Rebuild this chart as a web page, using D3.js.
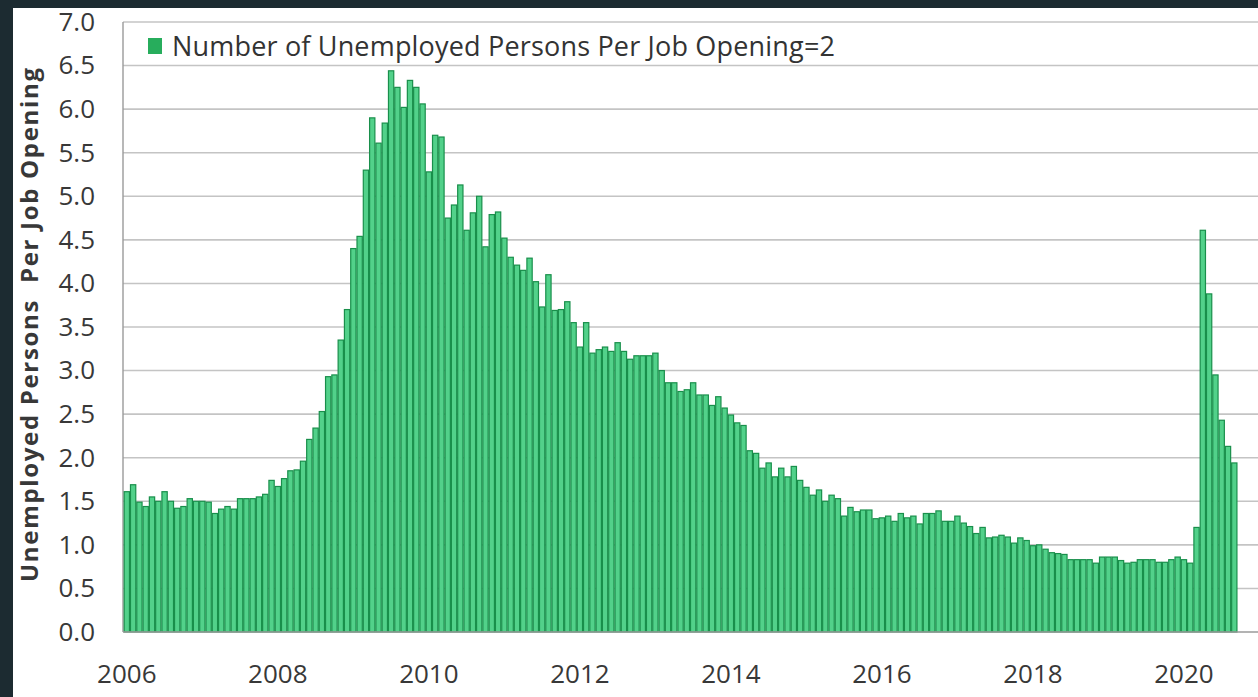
<!DOCTYPE html>
<html>
<head>
<meta charset="utf-8">
<script src="https://cdn.jsdelivr.net/npm/d3@7"></script>
<style>
  html, body { margin: 0; padding: 0; background: #1c2b31; }
  svg { display: block; }
  text { font-family: "Open Sans", "DejaVu Sans", sans-serif; }
</style>
</head>
<body>
<svg id="chart" width="1258" height="697"></svg>
<script>
// ---- Data ----
const startYear = 2006;
const endYear = 2020;              // axis runs through Dec 2020
const yearLabels = ["2006", "2008", "2010", "2012", "2014", "2016", "2018", "2020"];
const yTicks = [0, 0.5, 1, 1.5, 2, 2.5, 3, 3.5, 4, 4.5, 5, 5.5, 6, 6.5, 7];
const seriesName = "Number of Unemployed Persons Per Job Opening=2";
const yTitle = "Unemployed Persons  Per Job Opening";

// Monthly ratio, Jan 2006 .. Sep 2020
const ratio = [
  /*2006*/ 1.61, 1.69, 1.49, 1.44, 1.55, 1.50, 1.61, 1.50, 1.42, 1.44, 1.53, 1.50,
  /*2007*/ 1.50, 1.49, 1.36, 1.41, 1.44, 1.41, 1.53, 1.53, 1.53, 1.55, 1.58, 1.74,
  /*2008*/ 1.67, 1.76, 1.85, 1.86, 1.96, 2.21, 2.34, 2.53, 2.93, 2.95, 3.35, 3.70,
  /*2009*/ 4.40, 4.54, 5.30, 5.90, 5.61, 5.84, 6.44, 6.25, 6.02, 6.33, 6.25, 6.06,
  /*2010*/ 5.28, 5.70, 5.68, 4.75, 4.90, 5.13, 4.61, 4.81, 5.00, 4.42, 4.79, 4.82,
  /*2011*/ 4.52, 4.30, 4.21, 4.15, 4.29, 4.02, 3.73, 4.10, 3.69, 3.70, 3.79, 3.55,
  /*2012*/ 3.27, 3.55, 3.20, 3.24, 3.27, 3.22, 3.32, 3.22, 3.13, 3.17, 3.17, 3.17,
  /*2013*/ 3.20, 3.00, 2.86, 2.86, 2.76, 2.78, 2.86, 2.72, 2.72, 2.60, 2.70, 2.57,
  /*2014*/ 2.49, 2.40, 2.37, 2.08, 2.05, 1.88, 1.94, 1.78, 1.88, 1.78, 1.90, 1.74,
  /*2015*/ 1.66, 1.57, 1.63, 1.50, 1.57, 1.53, 1.33, 1.43, 1.38, 1.40, 1.40, 1.30,
  /*2016*/ 1.31, 1.33, 1.27, 1.36, 1.31, 1.33, 1.24, 1.36, 1.36, 1.39, 1.27, 1.27,
  /*2017*/ 1.33, 1.25, 1.21, 1.13, 1.20, 1.08, 1.09, 1.11, 1.09, 1.02, 1.08, 1.05,
  /*2018*/ 0.99, 1.00, 0.95, 0.91, 0.90, 0.89, 0.83, 0.83, 0.83, 0.83, 0.79, 0.86,
  /*2019*/ 0.86, 0.86, 0.82, 0.79, 0.80, 0.83, 0.83, 0.83, 0.80, 0.80, 0.83, 0.86,
  /*2020*/ 0.83, 0.79, 1.20, 4.61, 3.88, 2.95, 2.43, 2.13, 1.94
];

// ---- Layout ----
const W = 1258, H = 697;
const plot = { left: 123, right: 1258, top: 22, bottom: 632 };
const bandLeft = 124, bandRight = 1256;

const svg = d3.select("#chart");

// dark photographed border + white chart area
svg.append("rect").attr("x", 0).attr("y", 0).attr("width", W).attr("height", H).attr("fill", "#1c2b31");
svg.append("rect").attr("x", 13).attr("y", 8).attr("width", W - 13).attr("height", H - 8).attr("fill", "#ffffff");

// months categories
const months = [];
for (let yr = startYear; yr <= endYear; yr++) for (let m = 0; m < 12; m++) months.push(yr + "-" + String(m + 1).padStart(2, "0"));
const data = ratio.map((v, i) => ({ month: months[i], value: v }));

const x = d3.scaleBand().domain(months).range([bandLeft, bandRight]).paddingInner(0.16).paddingOuter(0.03);
const y = d3.scaleLinear().domain([0, 7]).range([plot.bottom, plot.top]);

// gridlines
svg.append("g").selectAll("line").data(yTicks.filter(d => d > 0)).join("line")
  .attr("x1", plot.left).attr("x2", plot.right)
  .attr("y1", d => y(d)).attr("y2", d => y(d))
  .attr("stroke", "#c4c4c4").attr("stroke-width", 1.6);

// left axis line
svg.append("line").attr("x1", plot.left).attr("x2", plot.left)
  .attr("y1", plot.top).attr("y2", plot.bottom)
  .attr("stroke", "#9a9a9a").attr("stroke-width", 1.4);

// bars
svg.append("g").selectAll("rect").data(data).join("rect")
  .attr("x", d => x(d.month))
  .attr("width", x.bandwidth())
  .attr("y", d => y(d.value))
  .attr("height", d => y(0) - y(d.value))
  .attr("fill", "#52d18a")
  .attr("stroke", "#198f4b")
  .attr("stroke-width", 1.2);

// bottom axis line
svg.append("line").attr("x1", plot.left).attr("x2", plot.right)
  .attr("y1", plot.bottom).attr("y2", plot.bottom)
  .attr("stroke", "#9a9a9a").attr("stroke-width", 1.4);

// y axis labels
const yAxis = d3.axisLeft(y).tickValues(yTicks).tickFormat(d3.format(".1f")).tickSize(0).tickPadding(28);
const gy = svg.append("g").attr("transform", `translate(${plot.left},0)`).call(yAxis);
gy.select(".domain").remove();
gy.selectAll("text").attr("font-size", 26).attr("fill", "#383838").style("font-family", "'Open Sans', sans-serif");

// x axis labels (January of each labelled year)
const xAxis = d3.axisBottom(x)
  .tickValues(yearLabels.map(yr => yr + "-01"))
  .tickFormat(d => d.slice(0, 4))
  .tickSize(0).tickPadding(33);
const gx = svg.append("g").attr("transform", `translate(0,${plot.bottom})`).call(xAxis);
gx.select(".domain").remove();
gx.selectAll("text").attr("font-size", 26).attr("fill", "#383838").style("font-family", "'Open Sans', sans-serif");

// y title
svg.append("text")
  .attr("transform", "translate(38,325) rotate(-90)")
  .attr("text-anchor", "middle")
  .attr("font-size", 24).attr("font-weight", "bold").attr("fill", "#383838")
  .attr("textLength", 514).attr("lengthAdjust", "spacing")
  .style("white-space", "pre")
  .text(yTitle);

// legend
svg.append("rect").attr("x", 148).attr("y", 38).attr("width", 14).attr("height", 16).attr("fill", "#27ad5c");
svg.append("text").attr("x", 172).attr("y", 56)
  .attr("font-size", 27).attr("fill", "#333333")
  .attr("textLength", 663).attr("lengthAdjust", "spacing")
  .text(seriesName);
</script>
</body>
</html>
